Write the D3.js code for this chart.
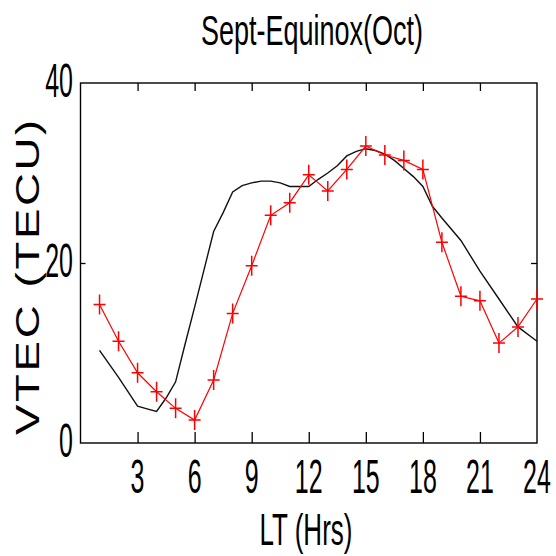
<!DOCTYPE html>
<html lang="en">
<head>
<meta charset="UTF-8">
<title>Sept-Equinox (Oct) VTEC</title>
<script src="https://d3js.org/d3.v7.min.js"></script>
<style>
html, body {
  margin: 0;
  padding: 0;
  background-color: white;
}
text {
  font-family: 'Liberation Sans', Arial, sans-serif;
  fill: black;
}
</style>
</head>
<body>
<div id="chart"></div>
<script>

// --------------------------------------
// Data
// --------------------------------------

// observed hourly VTEC (red, + markers)
const obsHours = [1, 2, 3, 4, 5, 6, 7, 8, 9, 10, 11, 12, 13, 14, 15, 16, 17, 18, 19, 20, 21, 22, 23, 24];
const obsVtec  = [15.4, 11.3, 7.8, 5.7, 3.85, 2.55, 7.0, 14.4, 19.7, 25.3, 26.7, 29.8,
                  28.0, 30.4, 33.0, 32.0, 31.4, 30.4, 22.3, 16.3, 15.8, 11.1, 12.9, 16.0];

// model curve (black)
const modelHours = [1, 2, 3, 3.5, 4, 4.5, 5, 5.5, 6, 6.5, 7, 7.5, 8, 8.5, 9, 9.5, 10, 10.5, 11, 11.5,
                    12, 12.5, 13, 13.5, 14, 14.5, 15, 15.5, 16, 16.5, 17, 17.5, 18, 18.5, 19, 20, 21, 22, 23, 24];
const modelVtec  = [10.3, 7.3, 4.1, 3.8, 3.5, 5.0, 6.8, 11.0, 15.1, 19.3, 23.5, 25.6, 27.9, 28.6, 28.9, 29.1, 29.1, 28.9, 28.5, 28.5,
                    28.5, 29.3, 30.0, 30.8, 31.9, 32.4, 32.7, 32.5, 32.1, 31.4, 30.5, 29.6, 28.5, 26.3, 25.0, 22.5, 19.1, 16.0, 12.9, 11.3];

const xTicks = [3, 6, 9, 12, 15, 18, 21, 24];
const yTicks = [0, 20, 40];

// --------------------------------------
// Size and scales
// --------------------------------------

let totalWidth = 556;
let totalHeight = 556;
let plot = {left: 80.5, right: 537, top: 83, bottom: 443};

let x = d3.scaleLinear().domain([0, 24]).range([plot.left, plot.right]);
let y = d3.scaleLinear().domain([0, 40]).range([plot.bottom, plot.top]);

let svg = d3.select('#chart')
  .append("svg")
  .attr("width", totalWidth)
  .attr("height", totalHeight);

// --------------------------------------
// Axes box and ticks (inward)
// --------------------------------------

let inner = xTicks.filter(d => d < 24);

svg.append("g")
  .attr("transform", `translate(0,${plot.bottom})`)
  .call(d3.axisBottom(x).tickValues(inner).tickSize(-11).tickFormat(""));
svg.append("g")
  .attr("transform", `translate(0,${plot.top})`)
  .call(d3.axisTop(x).tickValues(inner).tickSize(-8).tickFormat(""));
svg.append("g")
  .attr("transform", `translate(${plot.left},0)`)
  .call(d3.axisLeft(y).tickValues([20]).tickSize(-5).tickFormat(""));
svg.append("g")
  .attr("transform", `translate(${plot.right},0)`)
  .call(d3.axisRight(y).tickValues([20]).tickSize(-6).tickFormat(""));

svg.selectAll(".domain").remove();
svg.selectAll(".tick line").attr("stroke", "black").attr("stroke-width", 1.3);

svg.append("rect")
  .attr("x", plot.left)
  .attr("y", plot.top)
  .attr("width", plot.right - plot.left)
  .attr("height", plot.bottom - plot.top)
  .attr("fill", "none")
  .attr("stroke", "black")
  .attr("stroke-width", 1.4);

// --------------------------------------
// Tick labels (the source image is stretched vertically)
// --------------------------------------

svg.append("g")
  .selectAll("text")
  .data(xTicks)
  .join("text")
  .attr("transform", d => `translate(${x(d)},493) scale(1,1.95)`)
  .attr("text-anchor", "middle")
  .attr("font-size", 25)
  .text(d => d);

svg.append("g")
  .selectAll("text")
  .data(yTicks)
  .join("text")
  .attr("transform", d => `translate(73,${y(d) + 14}) scale(1,1.9)`)
  .attr("text-anchor", "end")
  .attr("font-size", 25)
  .text(d => d);

// --------------------------------------
// Titles
// --------------------------------------

svg.append("text")
  .attr("transform", "translate(312,45) scale(1,1.55)")
  .attr("text-anchor", "middle")
  .attr("font-size", 27)
  .text("Sept-Equinox(Oct)");

svg.append("text")
  .attr("transform", "translate(306,545) scale(1,1.7)")
  .attr("text-anchor", "middle")
  .attr("font-size", 26)
  .text("LT (Hrs)");

svg.append("text")
  .attr("transform", "translate(39,276) rotate(-90) scale(1.34,1)")
  .attr("text-anchor", "middle")
  .attr("font-size", 34)
  .attr("letter-spacing", 2)
  .text("VTEC (TECU)");

// --------------------------------------
// Lines
// --------------------------------------

let line = d3.line().x(d => x(d[0])).y(d => y(d[1]));

svg.append("path")
  .datum(d3.zip(modelHours, modelVtec))
  .attr("d", line)
  .attr("fill", "none")
  .attr("stroke", "#111")
  .attr("stroke-width", 1.4);

let obs = d3.zip(obsHours, obsVtec);

svg.append("path")
  .datum(obs)
  .attr("d", line)
  .attr("fill", "none")
  .attr("stroke", "#ff0000")
  .attr("stroke-width", 1.2);

svg.append("g")
  .selectAll("path")
  .data(obs)
  .join("path")
  .attr("d", d => `M${x(d[0]) - 6},${y(d[1])}h12M${x(d[0])},${y(d[1]) - 10}v20`)
  .attr("stroke", "#ff0000")
  .attr("stroke-width", 1.5);

</script>
</body>
</html>
